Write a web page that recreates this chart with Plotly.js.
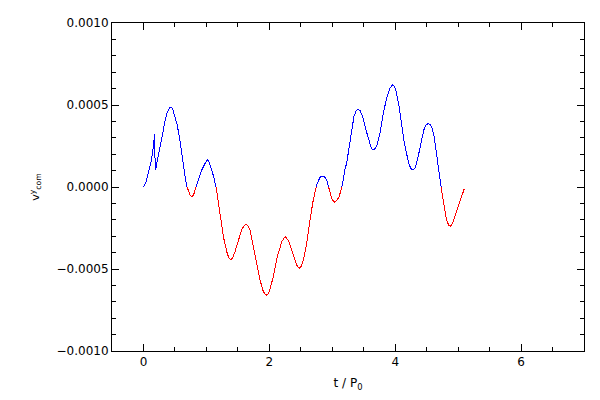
<!DOCTYPE html>
<html>
<head>
<meta charset="utf-8">
<script src="https://cdn.plot.ly/plotly-3.0.1.min.js"></script>
<style>html,body{margin:0;padding:0;background:#fff;}#chart{width:600px;height:400px;}
#chart .scatterlayer path.js-line{shape-rendering:crispEdges;}</style>
</head>
<body>
<div id="chart"></div>
<script>
var tValues = [0, 0.04, 0.075, 0.10, 0.127, 0.154, 0.168, 0.178, 0.182, 0.188, 0.20, 0.215, 0.238, 0.262, 0.29, 0.317, 0.344, 0.381, 0.41, 0.435, 0.46, 0.476, 0.50, 0.53, 0.571, 0.61, 0.646, 0.678, 0.714, 0.74, 0.768, 0.795, 0.82, 0.873, 0.927, 0.98, 1.016, 1.04, 1.06, 1.085, 1.11, 1.154, 1.19, 1.228, 1.27, 1.323, 1.355, 1.387, 1.42, 1.455, 1.508, 1.56, 1.60, 1.63, 1.66, 1.693, 1.746, 1.8, 1.852, 1.905, 1.948, 1.975, 2.0, 2.063, 2.127, 2.197, 2.25, 2.30, 2.355, 2.408, 2.445, 2.476, 2.505, 2.54, 2.594, 2.646, 2.698, 2.752, 2.805, 2.848, 2.88, 2.91, 2.963, 3.00, 3.043, 3.075, 3.11, 3.165, 3.2, 3.228, 3.27, 3.307, 3.344, 3.38, 3.413, 3.445, 3.482, 3.535, 3.598, 3.625, 3.651, 3.68, 3.714, 3.768, 3.81, 3.864, 3.916, 3.958, 3.985, 4.011, 4.063, 4.1, 4.138, 4.18, 4.222, 4.255, 4.286, 4.315, 4.34, 4.381, 4.419, 4.455, 4.49, 4.524, 4.555, 4.578, 4.619, 4.657, 4.698, 4.736, 4.773, 4.815, 4.85, 4.879, 4.91, 4.947, 5.0, 5.054, 5.095];
var vValues = [0, 0.00003, 0.000084, 0.00012, 0.000165, 0.000236, 0.00028, 0.00032, 0.0002, 0.000104, 0.00012, 0.00015, 0.000185, 0.00023, 0.000276, 0.000348, 0.000409, 0.000459, 0.00048, 0.000487, 0.00048, 0.000459, 0.00043, 0.000388, 0.000307, 0.000215, 0.000104, 0.000023, -0.000029, -0.00005, -0.000058, -0.00005, -0.000018, 0.000043, 0.000104, 0.000145, 0.000165, 0.000155, 0.000134, 0.000108, 0.00007, 0.0, -0.0001, -0.0002, -0.000303, -0.000394, -0.00043, -0.000445, -0.00043, -0.000394, -0.000323, -0.000262, -0.000235, -0.000228, -0.000238, -0.000262, -0.000364, -0.000465, -0.000567, -0.000638, -0.00066, -0.000655, -0.000638, -0.000547, -0.000425, -0.000334, -0.000303, -0.000323, -0.000384, -0.000445, -0.000485, -0.000496, -0.000485, -0.000445, -0.000343, -0.0002, -0.000079, 0.000012, 0.000059, 0.000067, 0.00006, 0.000043, -0.000029, -0.00008, -0.000093, -0.00008, -0.000059, 0.000023, 0.000104, 0.000145, 0.000246, 0.000348, 0.000429, 0.000465, 0.000474, 0.000465, 0.000429, 0.000348, 0.000256, 0.000232, 0.000226, 0.000235, 0.000256, 0.000348, 0.000449, 0.000541, 0.000602, 0.000622, 0.000615, 0.000591, 0.00049, 0.000388, 0.000287, 0.000205, 0.000134, 0.00011, 0.000104, 0.000115, 0.000145, 0.000215, 0.000287, 0.000348, 0.000378, 0.000388, 0.00038, 0.000368, 0.000307, 0.000205, 0.000084, -0.000018, -0.00012, -0.000201, -0.000232, -0.000238, -0.000222, -0.000181, -0.00011, -0.000049, -0.000014];
var posColor = '#0000ff';
var negColor = '#ff0000';

// split the single series at zero crossings into a positive (blue) and negative (red) trace
var px = [], py = [], nx = [], ny = [];
for (var i = 0; i < tValues.length; i++) {
  var v = vValues[i], t = tValues[i];
  if (i > 0) {
    var v0 = vValues[i-1], t0 = tValues[i-1];
    if ((v0 >= 0) !== (v >= 0)) {
      var tc = t0 + (t - t0) * (0 - v0) / (v - v0);
      px.push(tc); py.push(0); nx.push(tc); ny.push(0);
      if (v >= 0) { nx.push(null); ny.push(null); } else { px.push(null); py.push(null); }
    }
  }
  if (v >= 0) { px.push(t); py.push(v); } else { nx.push(t); ny.push(v); }
}

var traces = [
  {x: px, y: py, type: 'scatter', mode: 'lines', line: {color: posColor, width: 1}, connectgaps: false, hoverinfo: 'skip'},
  {x: nx, y: ny, type: 'scatter', mode: 'lines', line: {color: negColor, width: 1}, connectgaps: false, hoverinfo: 'skip'}
];

var font = {family: 'DejaVu Sans, sans-serif', size: 12, color: '#000'};
var layout = {
  width: 600, height: 400,
  margin: {l: 112, r: 16, t: 23, b: 49, pad: 0},
  paper_bgcolor: '#fff', plot_bgcolor: '#fff',
  showlegend: false,
  font: font,
  xaxis: {
    range: [-0.5, 7], dtick: 2, tick0: 0,
    showgrid: false, zeroline: false,
    showline: true, linecolor: '#000', linewidth: 1, mirror: 'allticks',
    ticks: 'inside', ticklen: 7, tickcolor: '#000', tickwidth: 1,
    minor: {dtick: 0.5, tick0: 0, ticks: 'inside', ticklen: 4, tickcolor: '#000', showgrid: false},
    tickfont: font,
    title: {text: 't / P<sub>0</sub>', font: font, standoff: 10}
  },
  yaxis: {
    range: [-0.001, 0.001], dtick: 0.0005, tick0: 0, tickformat: '.4f',
    showgrid: false, zeroline: false,
    showline: true, linecolor: '#000', linewidth: 1, mirror: 'allticks',
    ticks: 'inside', ticklen: 7, tickcolor: '#000', tickwidth: 1,
    minor: {dtick: 0.0001, tick0: 0, ticks: 'inside', ticklen: 4, tickcolor: '#000', showgrid: false},
    tickfont: font,
    title: {text: 'v<sup>y</sup><sub>com</sub>', font: {family: 'DejaVu Sans, sans-serif', size: 11, color: '#000'}, standoff: 14}
  }
};

Plotly.newPlot('chart', traces, layout, {staticPlot: true, displayModeBar: false});
</script>
</body>
</html>
